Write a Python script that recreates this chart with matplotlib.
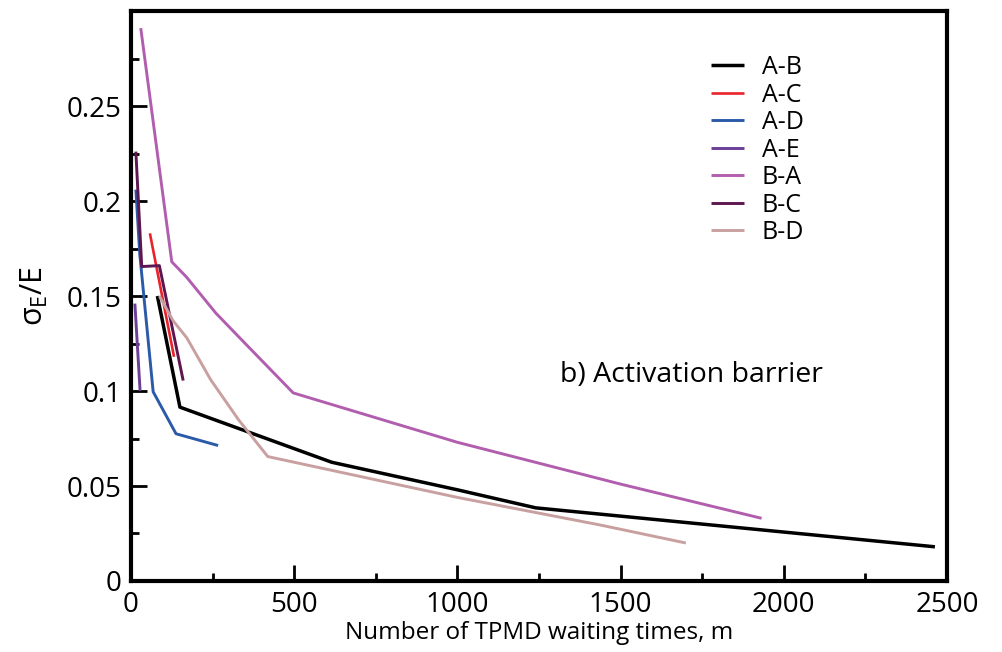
import numpy as np
import matplotlib
matplotlib.use("Agg")
import matplotlib.pyplot as plt

plt.rcParams['font.family'] = ['Open Sans', 'DejaVu Sans']
plt.rcParams['mathtext.fontset'] = 'custom'
plt.rcParams['mathtext.rm'] = 'Open Sans'
plt.rcParams['mathtext.it'] = 'Open Sans:italic'

#### DATA ####
ab_m = [81, 150, 615, 1000, 1240, 2463]
ab_s = [0.150, 0.0915, 0.0625, 0.048, 0.0385, 0.018]

ac_m = [58, 75, 132]
ac_s = [0.183, 0.168, 0.118]

ad_m = [15, 27, 68, 138, 267]
ad_s = [0.206, 0.172, 0.0996, 0.0775, 0.0713]

ae_m = [12, 28]
ae_s = [0.146, 0.100]

ba_m = [30, 125, 170, 260, 350, 497, 1000, 1500, 1932]
ba_s = [0.291, 0.168, 0.160, 0.141, 0.125, 0.099, 0.073, 0.051, 0.033]

bc_m = [15, 33, 87, 160]
bc_s = [0.226, 0.1655, 0.166, 0.1055]

bd_m = [87, 129, 171, 244, 329, 419, 1000, 1437, 1700]
bd_s = [0.150, 0.137, 0.128, 0.106, 0.085, 0.0655, 0.044, 0.0295, 0.020]

series = [
    ("A-B", ab_m, ab_s, "black", 2.5),
    ("A-C", ac_m, ac_s, "#e8232a", 1.9),
    ("A-D", ad_m, ad_s, "#2b5aa8", 2.1),
    ("A-E", ae_m, ae_s, "#6b3f98", 2.1),
    ("B-A", ba_m, ba_s, "#b15eae", 2.1),
    ("B-C", bc_m, bc_s, "#5e1550", 2.1),
    ("B-D", bd_m, bd_s, "#c9a0a0", 2.1),
]

fig = plt.figure(figsize=(10.02, 6.52), dpi=100)
ax = fig.add_axes([0.1307, 0.1089, 0.8144, 0.8742])

for name, m, s, col, lw in series:
    ax.plot(m, s, color=col, lw=lw, label=name, solid_capstyle='butt')

ax.set_xlim(0, 2500)
ax.set_ylim(0, 0.3)
ax.set_xticks([0, 500, 1000, 1500, 2000, 2500])
ax.set_xticks(np.arange(250, 2500, 500), minor=True)
ax.set_yticks([0, 0.05, 0.1, 0.15, 0.2, 0.25, 0.3])
ax.set_yticklabels(["0", "0.05", "0.1", "0.15", "0.2", "0.25", ""])
ax.set_yticks(np.arange(0.025, 0.3, 0.05), minor=True)
ax.tick_params(which='major', direction='in', length=11.5, width=2, labelsize=20, pad=7)
ax.tick_params(which='minor', direction='in', length=6, width=2)
for sp in ax.spines.values():
    sp.set_linewidth(3)

ax.set_xlabel("Number of TPMD waiting times, m", fontsize=17.5, labelpad=2)
ax.set_ylabel(r"$\mathrm{\sigma_E}$/E", fontsize=22, labelpad=12)

ax.text(0.526, 0.361, "b) Activation barrier", transform=ax.transAxes,
        fontsize=20.5, ha='left', va='center')

ax.legend(loc='upper left', bbox_to_anchor=(0.698, 0.94), frameon=False,
          fontsize=18, handlelength=1.35, handletextpad=0.7, labelspacing=0.1,
          borderaxespad=0)

fig.savefig("out.png", dpi=100)
